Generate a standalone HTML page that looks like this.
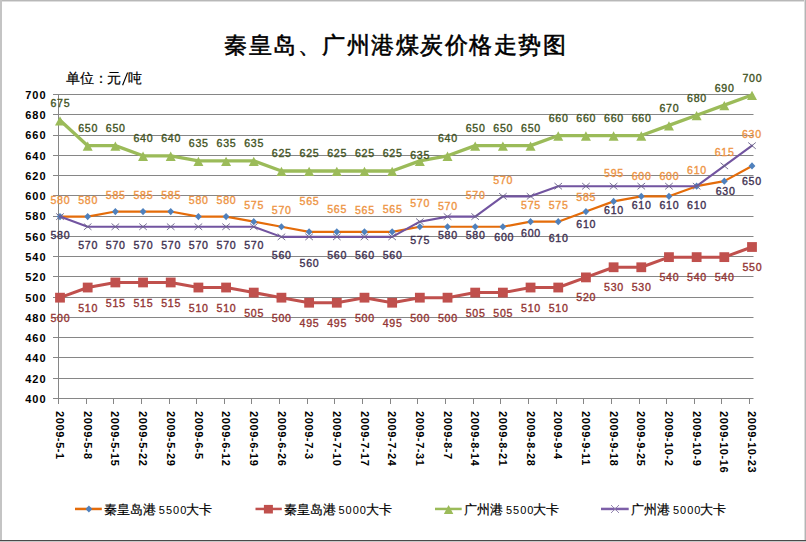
<!DOCTYPE html>
<html><head><meta charset="utf-8"><style>
html,body{margin:0;padding:0;background:#fff;}
#c{position:relative;width:806px;height:542px;overflow:hidden;background:#fff;font-family:"Liberation Sans",sans-serif;}
.dl{font-family:"Liberation Sans",sans-serif;font-size:10.6px;text-anchor:middle;letter-spacing:0.75px;stroke-width:0.35px;}
.ax{font-family:"Liberation Sans",sans-serif;font-size:11px;font-weight:bold;fill:#000;}
.bt{position:absolute;background:#c4c4c4;}
#title{position:absolute;left:224px;top:30px;font-size:23px;font-weight:normal;letter-spacing:1.5px;-webkit-text-stroke:0.55px #000;white-space:nowrap;line-height:30px;color:#000;}
.un{position:absolute;top:69.8px;font-size:13.5px;-webkit-text-stroke:0.2px #000;white-space:nowrap;line-height:17px;color:#000;}
.lg{position:absolute;top:500.6px;font-size:13px;-webkit-text-stroke:0.2px #000;white-space:nowrap;line-height:17px;color:#000;}
.lgd{position:absolute;top:501.8px;font-size:11px;white-space:nowrap;line-height:17px;color:#000;letter-spacing:1px}
</style></head><body><div id="c">
<svg width="806" height="542" viewBox="0 0 806 542" style="position:absolute;left:0;top:0">
<rect x="53" y="94" width="700.5" height="1" fill="#868686"/>
<rect x="53" y="114" width="700.5" height="1" fill="#868686"/>
<rect x="53" y="135" width="700.5" height="1" fill="#868686"/>
<rect x="53" y="155" width="700.5" height="1" fill="#868686"/>
<rect x="53" y="175" width="700.5" height="1" fill="#868686"/>
<rect x="53" y="195" width="700.5" height="1" fill="#868686"/>
<rect x="53" y="216" width="700.5" height="1" fill="#868686"/>
<rect x="53" y="236" width="700.5" height="1" fill="#868686"/>
<rect x="53" y="256" width="700.5" height="1" fill="#868686"/>
<rect x="53" y="276" width="700.5" height="1" fill="#868686"/>
<rect x="53" y="297" width="700.5" height="1" fill="#868686"/>
<rect x="53" y="317" width="700.5" height="1" fill="#868686"/>
<rect x="53" y="337" width="700.5" height="1" fill="#868686"/>
<rect x="53" y="357" width="700.5" height="1" fill="#868686"/>
<rect x="53" y="378" width="700.5" height="1" fill="#868686"/>
<rect x="53" y="398" width="700.5" height="1" fill="#868686"/>
<rect x="58" y="94" width="1" height="305" fill="#868686"/>
<rect x="58" y="398" width="1" height="6" fill="#868686"/>
<rect x="86" y="398" width="1" height="6" fill="#868686"/>
<rect x="113" y="398" width="1" height="6" fill="#868686"/>
<rect x="141" y="398" width="1" height="6" fill="#868686"/>
<rect x="169" y="398" width="1" height="6" fill="#868686"/>
<rect x="196" y="398" width="1" height="6" fill="#868686"/>
<rect x="224" y="398" width="1" height="6" fill="#868686"/>
<rect x="251" y="398" width="1" height="6" fill="#868686"/>
<rect x="279" y="398" width="1" height="6" fill="#868686"/>
<rect x="307" y="398" width="1" height="6" fill="#868686"/>
<rect x="334" y="398" width="1" height="6" fill="#868686"/>
<rect x="362" y="398" width="1" height="6" fill="#868686"/>
<rect x="390" y="398" width="1" height="6" fill="#868686"/>
<rect x="417" y="398" width="1" height="6" fill="#868686"/>
<rect x="445" y="398" width="1" height="6" fill="#868686"/>
<rect x="473" y="398" width="1" height="6" fill="#868686"/>
<rect x="500" y="398" width="1" height="6" fill="#868686"/>
<rect x="528" y="398" width="1" height="6" fill="#868686"/>
<rect x="556" y="398" width="1" height="6" fill="#868686"/>
<rect x="583" y="398" width="1" height="6" fill="#868686"/>
<rect x="611" y="398" width="1" height="6" fill="#868686"/>
<rect x="639" y="398" width="1" height="6" fill="#868686"/>
<rect x="666" y="398" width="1" height="6" fill="#868686"/>
<rect x="694" y="398" width="1" height="6" fill="#868686"/>
<rect x="721" y="398" width="1" height="6" fill="#868686"/>
<rect x="749" y="398" width="1" height="6" fill="#868686"/>
<polyline points="60.00,216.60 87.68,216.60 115.36,211.53 143.04,211.53 170.72,211.53 198.40,216.60 226.08,216.60 253.76,221.67 281.44,226.73 309.12,231.80 336.80,231.80 364.48,231.80 392.16,231.80 419.84,226.73 447.52,226.73 475.20,226.73 502.88,226.73 530.56,221.67 558.24,221.67 585.92,211.53 613.60,201.40 641.28,196.33 668.96,196.33 696.64,186.20 724.32,181.13 752.00,165.93" fill="none" stroke="#E46C0A" stroke-width="2.2" stroke-linejoin="round" stroke-linecap="round"/>
<path d="M60.00,213.00 L63.40,216.60 L60.00,220.20 L56.60,216.60Z" fill="#4F81BD"/>
<path d="M87.68,213.00 L91.08,216.60 L87.68,220.20 L84.28,216.60Z" fill="#4F81BD"/>
<path d="M115.36,207.93 L118.76,211.53 L115.36,215.13 L111.96,211.53Z" fill="#4F81BD"/>
<path d="M143.04,207.93 L146.44,211.53 L143.04,215.13 L139.64,211.53Z" fill="#4F81BD"/>
<path d="M170.72,207.93 L174.12,211.53 L170.72,215.13 L167.32,211.53Z" fill="#4F81BD"/>
<path d="M198.40,213.00 L201.80,216.60 L198.40,220.20 L195.00,216.60Z" fill="#4F81BD"/>
<path d="M226.08,213.00 L229.48,216.60 L226.08,220.20 L222.68,216.60Z" fill="#4F81BD"/>
<path d="M253.76,218.07 L257.16,221.67 L253.76,225.27 L250.36,221.67Z" fill="#4F81BD"/>
<path d="M281.44,223.13 L284.84,226.73 L281.44,230.33 L278.04,226.73Z" fill="#4F81BD"/>
<path d="M309.12,228.20 L312.52,231.80 L309.12,235.40 L305.72,231.80Z" fill="#4F81BD"/>
<path d="M336.80,228.20 L340.20,231.80 L336.80,235.40 L333.40,231.80Z" fill="#4F81BD"/>
<path d="M364.48,228.20 L367.88,231.80 L364.48,235.40 L361.08,231.80Z" fill="#4F81BD"/>
<path d="M392.16,228.20 L395.56,231.80 L392.16,235.40 L388.76,231.80Z" fill="#4F81BD"/>
<path d="M419.84,223.13 L423.24,226.73 L419.84,230.33 L416.44,226.73Z" fill="#4F81BD"/>
<path d="M447.52,223.13 L450.92,226.73 L447.52,230.33 L444.12,226.73Z" fill="#4F81BD"/>
<path d="M475.20,223.13 L478.60,226.73 L475.20,230.33 L471.80,226.73Z" fill="#4F81BD"/>
<path d="M502.88,223.13 L506.28,226.73 L502.88,230.33 L499.48,226.73Z" fill="#4F81BD"/>
<path d="M530.56,218.07 L533.96,221.67 L530.56,225.27 L527.16,221.67Z" fill="#4F81BD"/>
<path d="M558.24,218.07 L561.64,221.67 L558.24,225.27 L554.84,221.67Z" fill="#4F81BD"/>
<path d="M585.92,207.93 L589.32,211.53 L585.92,215.13 L582.52,211.53Z" fill="#4F81BD"/>
<path d="M613.60,197.80 L617.00,201.40 L613.60,205.00 L610.20,201.40Z" fill="#4F81BD"/>
<path d="M641.28,192.73 L644.68,196.33 L641.28,199.93 L637.88,196.33Z" fill="#4F81BD"/>
<path d="M668.96,192.73 L672.36,196.33 L668.96,199.93 L665.56,196.33Z" fill="#4F81BD"/>
<path d="M696.64,182.60 L700.04,186.20 L696.64,189.80 L693.24,186.20Z" fill="#4F81BD"/>
<path d="M724.32,177.53 L727.72,181.13 L724.32,184.73 L720.92,181.13Z" fill="#4F81BD"/>
<path d="M752.00,162.33 L755.40,165.93 L752.00,169.53 L748.60,165.93Z" fill="#4F81BD"/>
<polyline points="60.00,297.67 87.68,287.53 115.36,282.47 143.04,282.47 170.72,282.47 198.40,287.53 226.08,287.53 253.76,292.60 281.44,297.67 309.12,302.73 336.80,302.73 364.48,297.67 392.16,302.73 419.84,297.67 447.52,297.67 475.20,292.60 502.88,292.60 530.56,287.53 558.24,287.53 585.92,277.40 613.60,267.27 641.28,267.27 668.96,257.13 696.64,257.13 724.32,257.13 752.00,247.00" fill="none" stroke="#C0504D" stroke-width="3" stroke-linejoin="round" stroke-linecap="round"/>
<rect x="55.10" y="292.77" width="9.8" height="9.8" fill="#C0504D"/>
<rect x="82.78" y="282.63" width="9.8" height="9.8" fill="#C0504D"/>
<rect x="110.46" y="277.57" width="9.8" height="9.8" fill="#C0504D"/>
<rect x="138.14" y="277.57" width="9.8" height="9.8" fill="#C0504D"/>
<rect x="165.82" y="277.57" width="9.8" height="9.8" fill="#C0504D"/>
<rect x="193.50" y="282.63" width="9.8" height="9.8" fill="#C0504D"/>
<rect x="221.18" y="282.63" width="9.8" height="9.8" fill="#C0504D"/>
<rect x="248.86" y="287.70" width="9.8" height="9.8" fill="#C0504D"/>
<rect x="276.54" y="292.77" width="9.8" height="9.8" fill="#C0504D"/>
<rect x="304.22" y="297.83" width="9.8" height="9.8" fill="#C0504D"/>
<rect x="331.90" y="297.83" width="9.8" height="9.8" fill="#C0504D"/>
<rect x="359.58" y="292.77" width="9.8" height="9.8" fill="#C0504D"/>
<rect x="387.26" y="297.83" width="9.8" height="9.8" fill="#C0504D"/>
<rect x="414.94" y="292.77" width="9.8" height="9.8" fill="#C0504D"/>
<rect x="442.62" y="292.77" width="9.8" height="9.8" fill="#C0504D"/>
<rect x="470.30" y="287.70" width="9.8" height="9.8" fill="#C0504D"/>
<rect x="497.98" y="287.70" width="9.8" height="9.8" fill="#C0504D"/>
<rect x="525.66" y="282.63" width="9.8" height="9.8" fill="#C0504D"/>
<rect x="553.34" y="282.63" width="9.8" height="9.8" fill="#C0504D"/>
<rect x="581.02" y="272.50" width="9.8" height="9.8" fill="#C0504D"/>
<rect x="608.70" y="262.37" width="9.8" height="9.8" fill="#C0504D"/>
<rect x="636.38" y="262.37" width="9.8" height="9.8" fill="#C0504D"/>
<rect x="664.06" y="252.23" width="9.8" height="9.8" fill="#C0504D"/>
<rect x="691.74" y="252.23" width="9.8" height="9.8" fill="#C0504D"/>
<rect x="719.42" y="252.23" width="9.8" height="9.8" fill="#C0504D"/>
<rect x="747.10" y="242.10" width="9.8" height="9.8" fill="#C0504D"/>
<polyline points="60.00,120.33 87.68,145.67 115.36,145.67 143.04,155.80 170.72,155.80 198.40,160.87 226.08,160.87 253.76,160.87 281.44,171.00 309.12,171.00 336.80,171.00 364.48,171.00 392.16,171.00 419.84,160.87 447.52,155.80 475.20,145.67 502.88,145.67 530.56,145.67 558.24,135.53 585.92,135.53 613.60,135.53 641.28,135.53 668.96,125.40 696.64,115.27 724.32,105.13 752.00,95.00" fill="none" stroke="#9BBB59" stroke-width="3.3" stroke-linejoin="round" stroke-linecap="round"/>
<path d="M60.00,116.13 L65.00,125.43 L55.00,125.43Z" fill="#9BBB59"/>
<path d="M87.68,141.47 L92.68,150.77 L82.68,150.77Z" fill="#9BBB59"/>
<path d="M115.36,141.47 L120.36,150.77 L110.36,150.77Z" fill="#9BBB59"/>
<path d="M143.04,151.60 L148.04,160.90 L138.04,160.90Z" fill="#9BBB59"/>
<path d="M170.72,151.60 L175.72,160.90 L165.72,160.90Z" fill="#9BBB59"/>
<path d="M198.40,156.67 L203.40,165.97 L193.40,165.97Z" fill="#9BBB59"/>
<path d="M226.08,156.67 L231.08,165.97 L221.08,165.97Z" fill="#9BBB59"/>
<path d="M253.76,156.67 L258.76,165.97 L248.76,165.97Z" fill="#9BBB59"/>
<path d="M281.44,166.80 L286.44,176.10 L276.44,176.10Z" fill="#9BBB59"/>
<path d="M309.12,166.80 L314.12,176.10 L304.12,176.10Z" fill="#9BBB59"/>
<path d="M336.80,166.80 L341.80,176.10 L331.80,176.10Z" fill="#9BBB59"/>
<path d="M364.48,166.80 L369.48,176.10 L359.48,176.10Z" fill="#9BBB59"/>
<path d="M392.16,166.80 L397.16,176.10 L387.16,176.10Z" fill="#9BBB59"/>
<path d="M419.84,156.67 L424.84,165.97 L414.84,165.97Z" fill="#9BBB59"/>
<path d="M447.52,151.60 L452.52,160.90 L442.52,160.90Z" fill="#9BBB59"/>
<path d="M475.20,141.47 L480.20,150.77 L470.20,150.77Z" fill="#9BBB59"/>
<path d="M502.88,141.47 L507.88,150.77 L497.88,150.77Z" fill="#9BBB59"/>
<path d="M530.56,141.47 L535.56,150.77 L525.56,150.77Z" fill="#9BBB59"/>
<path d="M558.24,131.33 L563.24,140.63 L553.24,140.63Z" fill="#9BBB59"/>
<path d="M585.92,131.33 L590.92,140.63 L580.92,140.63Z" fill="#9BBB59"/>
<path d="M613.60,131.33 L618.60,140.63 L608.60,140.63Z" fill="#9BBB59"/>
<path d="M641.28,131.33 L646.28,140.63 L636.28,140.63Z" fill="#9BBB59"/>
<path d="M668.96,121.20 L673.96,130.50 L663.96,130.50Z" fill="#9BBB59"/>
<path d="M696.64,111.07 L701.64,120.37 L691.64,120.37Z" fill="#9BBB59"/>
<path d="M724.32,100.93 L729.32,110.23 L719.32,110.23Z" fill="#9BBB59"/>
<path d="M752.00,90.80 L757.00,100.10 L747.00,100.10Z" fill="#9BBB59"/>
<polyline points="60.00,216.60 87.68,226.73 115.36,226.73 143.04,226.73 170.72,226.73 198.40,226.73 226.08,226.73 253.76,226.73 281.44,236.87 309.12,236.87 336.80,236.87 364.48,236.87 392.16,236.87 419.84,221.67 447.52,216.60 475.20,216.60 502.88,196.33 530.56,196.33 558.24,186.20 585.92,186.20 613.60,186.20 641.28,186.20 668.96,186.20 696.64,186.20 724.32,165.93 752.00,145.67" fill="none" stroke="#7254A0" stroke-width="2.1" stroke-linejoin="round" stroke-linecap="round"/>
<path d="M56.20,213.40 L63.80,219.80 M63.80,213.40 L56.20,219.80" stroke="#6A6288" stroke-width="0.9" fill="none"/>
<path d="M83.88,223.53 L91.48,229.93 M91.48,223.53 L83.88,229.93" stroke="#6A6288" stroke-width="0.9" fill="none"/>
<path d="M111.56,223.53 L119.16,229.93 M119.16,223.53 L111.56,229.93" stroke="#6A6288" stroke-width="0.9" fill="none"/>
<path d="M139.24,223.53 L146.84,229.93 M146.84,223.53 L139.24,229.93" stroke="#6A6288" stroke-width="0.9" fill="none"/>
<path d="M166.92,223.53 L174.52,229.93 M174.52,223.53 L166.92,229.93" stroke="#6A6288" stroke-width="0.9" fill="none"/>
<path d="M194.60,223.53 L202.20,229.93 M202.20,223.53 L194.60,229.93" stroke="#6A6288" stroke-width="0.9" fill="none"/>
<path d="M222.28,223.53 L229.88,229.93 M229.88,223.53 L222.28,229.93" stroke="#6A6288" stroke-width="0.9" fill="none"/>
<path d="M249.96,223.53 L257.56,229.93 M257.56,223.53 L249.96,229.93" stroke="#6A6288" stroke-width="0.9" fill="none"/>
<path d="M277.64,233.67 L285.24,240.07 M285.24,233.67 L277.64,240.07" stroke="#6A6288" stroke-width="0.9" fill="none"/>
<path d="M305.32,233.67 L312.92,240.07 M312.92,233.67 L305.32,240.07" stroke="#6A6288" stroke-width="0.9" fill="none"/>
<path d="M333.00,233.67 L340.60,240.07 M340.60,233.67 L333.00,240.07" stroke="#6A6288" stroke-width="0.9" fill="none"/>
<path d="M360.68,233.67 L368.28,240.07 M368.28,233.67 L360.68,240.07" stroke="#6A6288" stroke-width="0.9" fill="none"/>
<path d="M388.36,233.67 L395.96,240.07 M395.96,233.67 L388.36,240.07" stroke="#6A6288" stroke-width="0.9" fill="none"/>
<path d="M416.04,218.47 L423.64,224.87 M423.64,218.47 L416.04,224.87" stroke="#6A6288" stroke-width="0.9" fill="none"/>
<path d="M443.72,213.40 L451.32,219.80 M451.32,213.40 L443.72,219.80" stroke="#6A6288" stroke-width="0.9" fill="none"/>
<path d="M471.40,213.40 L479.00,219.80 M479.00,213.40 L471.40,219.80" stroke="#6A6288" stroke-width="0.9" fill="none"/>
<path d="M499.08,193.13 L506.68,199.53 M506.68,193.13 L499.08,199.53" stroke="#6A6288" stroke-width="0.9" fill="none"/>
<path d="M526.76,193.13 L534.36,199.53 M534.36,193.13 L526.76,199.53" stroke="#6A6288" stroke-width="0.9" fill="none"/>
<path d="M554.44,183.00 L562.04,189.40 M562.04,183.00 L554.44,189.40" stroke="#6A6288" stroke-width="0.9" fill="none"/>
<path d="M582.12,183.00 L589.72,189.40 M589.72,183.00 L582.12,189.40" stroke="#6A6288" stroke-width="0.9" fill="none"/>
<path d="M609.80,183.00 L617.40,189.40 M617.40,183.00 L609.80,189.40" stroke="#6A6288" stroke-width="0.9" fill="none"/>
<path d="M637.48,183.00 L645.08,189.40 M645.08,183.00 L637.48,189.40" stroke="#6A6288" stroke-width="0.9" fill="none"/>
<path d="M665.16,183.00 L672.76,189.40 M672.76,183.00 L665.16,189.40" stroke="#6A6288" stroke-width="0.9" fill="none"/>
<path d="M692.84,183.00 L700.44,189.40 M700.44,183.00 L692.84,189.40" stroke="#6A6288" stroke-width="0.9" fill="none"/>
<path d="M720.52,162.73 L728.12,169.13 M728.12,162.73 L720.52,169.13" stroke="#6A6288" stroke-width="0.9" fill="none"/>
<path d="M748.20,142.47 L755.80,148.87 M755.80,142.47 L748.20,148.87" stroke="#6A6288" stroke-width="0.9" fill="none"/>
<text x="60.4" y="106.5" fill="#435424" stroke="#435424" class="dl">675</text>
<text x="88.1" y="131.9" fill="#435424" stroke="#435424" class="dl">650</text>
<text x="115.8" y="131.9" fill="#435424" stroke="#435424" class="dl">650</text>
<text x="143.4" y="142.0" fill="#435424" stroke="#435424" class="dl">640</text>
<text x="171.1" y="142.0" fill="#435424" stroke="#435424" class="dl">640</text>
<text x="198.8" y="147.1" fill="#435424" stroke="#435424" class="dl">635</text>
<text x="226.5" y="147.1" fill="#435424" stroke="#435424" class="dl">635</text>
<text x="254.2" y="147.1" fill="#435424" stroke="#435424" class="dl">635</text>
<text x="281.8" y="157.2" fill="#435424" stroke="#435424" class="dl">625</text>
<text x="309.5" y="157.2" fill="#435424" stroke="#435424" class="dl">625</text>
<text x="337.2" y="157.2" fill="#435424" stroke="#435424" class="dl">625</text>
<text x="364.9" y="157.2" fill="#435424" stroke="#435424" class="dl">625</text>
<text x="392.6" y="157.2" fill="#435424" stroke="#435424" class="dl">625</text>
<text x="420.2" y="159.1" fill="#435424" stroke="#435424" class="dl">635</text>
<text x="447.9" y="142.0" fill="#435424" stroke="#435424" class="dl">640</text>
<text x="475.6" y="131.9" fill="#435424" stroke="#435424" class="dl">650</text>
<text x="503.3" y="131.9" fill="#435424" stroke="#435424" class="dl">650</text>
<text x="531.0" y="131.9" fill="#435424" stroke="#435424" class="dl">650</text>
<text x="558.6" y="121.7" fill="#435424" stroke="#435424" class="dl">660</text>
<text x="586.3" y="121.7" fill="#435424" stroke="#435424" class="dl">660</text>
<text x="614.0" y="121.7" fill="#435424" stroke="#435424" class="dl">660</text>
<text x="641.7" y="121.7" fill="#435424" stroke="#435424" class="dl">660</text>
<text x="669.4" y="111.6" fill="#435424" stroke="#435424" class="dl">670</text>
<text x="697.0" y="101.5" fill="#435424" stroke="#435424" class="dl">680</text>
<text x="724.7" y="92.0" fill="#435424" stroke="#435424" class="dl">690</text>
<text x="752.4" y="82.4" fill="#435424" stroke="#435424" class="dl">700</text>
<text x="60.4" y="204.3" fill="#EE9545" stroke="#EE9545" class="dl">580</text>
<text x="88.1" y="204.3" fill="#EE9545" stroke="#EE9545" class="dl">580</text>
<text x="115.8" y="199.2" fill="#EE9545" stroke="#EE9545" class="dl">585</text>
<text x="143.4" y="199.2" fill="#EE9545" stroke="#EE9545" class="dl">585</text>
<text x="171.1" y="199.2" fill="#EE9545" stroke="#EE9545" class="dl">585</text>
<text x="198.8" y="204.3" fill="#EE9545" stroke="#EE9545" class="dl">580</text>
<text x="226.5" y="204.3" fill="#EE9545" stroke="#EE9545" class="dl">580</text>
<text x="254.2" y="209.4" fill="#EE9545" stroke="#EE9545" class="dl">575</text>
<text x="281.8" y="214.4" fill="#EE9545" stroke="#EE9545" class="dl">570</text>
<text x="309.5" y="205.0" fill="#EE9545" stroke="#EE9545" class="dl">565</text>
<text x="337.2" y="213.0" fill="#EE9545" stroke="#EE9545" class="dl">565</text>
<text x="364.9" y="214.0" fill="#EE9545" stroke="#EE9545" class="dl">565</text>
<text x="392.6" y="212.5" fill="#EE9545" stroke="#EE9545" class="dl">565</text>
<text x="420.2" y="206.5" fill="#EE9545" stroke="#EE9545" class="dl">570</text>
<text x="447.9" y="209.9" fill="#EE9545" stroke="#EE9545" class="dl">570</text>
<text x="475.6" y="198.5" fill="#EE9545" stroke="#EE9545" class="dl">570</text>
<text x="503.3" y="183.7" fill="#EE9545" stroke="#EE9545" class="dl">570</text>
<text x="531.0" y="209.4" fill="#EE9545" stroke="#EE9545" class="dl">575</text>
<text x="558.6" y="209.4" fill="#EE9545" stroke="#EE9545" class="dl">575</text>
<text x="586.3" y="200.7" fill="#EE9545" stroke="#EE9545" class="dl">585</text>
<text x="614.0" y="177.0" fill="#EE9545" stroke="#EE9545" class="dl">595</text>
<text x="641.7" y="180.3" fill="#EE9545" stroke="#EE9545" class="dl">600</text>
<text x="669.4" y="180.3" fill="#EE9545" stroke="#EE9545" class="dl">600</text>
<text x="697.0" y="173.9" fill="#EE9545" stroke="#EE9545" class="dl">610</text>
<text x="724.7" y="155.6" fill="#EE9545" stroke="#EE9545" class="dl">615</text>
<text x="751.9" y="138.4" fill="#EE9545" stroke="#EE9545" class="dl">630</text>
<text x="60.4" y="321.7" fill="#943634" stroke="#943634" class="dl">500</text>
<text x="88.1" y="311.5" fill="#943634" stroke="#943634" class="dl">510</text>
<text x="115.8" y="306.5" fill="#943634" stroke="#943634" class="dl">515</text>
<text x="143.4" y="306.5" fill="#943634" stroke="#943634" class="dl">515</text>
<text x="171.1" y="306.5" fill="#943634" stroke="#943634" class="dl">515</text>
<text x="198.8" y="311.5" fill="#943634" stroke="#943634" class="dl">510</text>
<text x="226.5" y="311.5" fill="#943634" stroke="#943634" class="dl">510</text>
<text x="254.2" y="316.6" fill="#943634" stroke="#943634" class="dl">505</text>
<text x="281.8" y="321.7" fill="#943634" stroke="#943634" class="dl">500</text>
<text x="309.5" y="326.7" fill="#943634" stroke="#943634" class="dl">495</text>
<text x="337.2" y="326.7" fill="#943634" stroke="#943634" class="dl">495</text>
<text x="364.9" y="321.7" fill="#943634" stroke="#943634" class="dl">500</text>
<text x="392.6" y="326.7" fill="#943634" stroke="#943634" class="dl">495</text>
<text x="420.2" y="321.7" fill="#943634" stroke="#943634" class="dl">500</text>
<text x="447.9" y="321.7" fill="#943634" stroke="#943634" class="dl">500</text>
<text x="475.6" y="316.6" fill="#943634" stroke="#943634" class="dl">505</text>
<text x="503.3" y="316.6" fill="#943634" stroke="#943634" class="dl">505</text>
<text x="531.0" y="311.5" fill="#943634" stroke="#943634" class="dl">510</text>
<text x="558.6" y="311.5" fill="#943634" stroke="#943634" class="dl">510</text>
<text x="586.3" y="301.4" fill="#943634" stroke="#943634" class="dl">520</text>
<text x="614.0" y="291.3" fill="#943634" stroke="#943634" class="dl">530</text>
<text x="641.7" y="291.3" fill="#943634" stroke="#943634" class="dl">530</text>
<text x="669.4" y="281.1" fill="#943634" stroke="#943634" class="dl">540</text>
<text x="697.0" y="281.1" fill="#943634" stroke="#943634" class="dl">540</text>
<text x="724.7" y="281.1" fill="#943634" stroke="#943634" class="dl">540</text>
<text x="752.4" y="271.0" fill="#943634" stroke="#943634" class="dl">550</text>
<text x="60.4" y="238.9" fill="#3F3151" stroke="#3F3151" class="dl">580</text>
<text x="88.1" y="249.0" fill="#3F3151" stroke="#3F3151" class="dl">570</text>
<text x="115.8" y="249.0" fill="#3F3151" stroke="#3F3151" class="dl">570</text>
<text x="143.4" y="249.0" fill="#3F3151" stroke="#3F3151" class="dl">570</text>
<text x="171.1" y="249.0" fill="#3F3151" stroke="#3F3151" class="dl">570</text>
<text x="198.8" y="249.0" fill="#3F3151" stroke="#3F3151" class="dl">570</text>
<text x="226.5" y="249.0" fill="#3F3151" stroke="#3F3151" class="dl">570</text>
<text x="254.2" y="249.0" fill="#3F3151" stroke="#3F3151" class="dl">570</text>
<text x="281.8" y="259.2" fill="#3F3151" stroke="#3F3151" class="dl">560</text>
<text x="309.5" y="266.5" fill="#3F3151" stroke="#3F3151" class="dl">560</text>
<text x="337.2" y="259.2" fill="#3F3151" stroke="#3F3151" class="dl">560</text>
<text x="364.9" y="259.2" fill="#3F3151" stroke="#3F3151" class="dl">560</text>
<text x="392.6" y="259.2" fill="#3F3151" stroke="#3F3151" class="dl">560</text>
<text x="420.2" y="244.0" fill="#3F3151" stroke="#3F3151" class="dl">575</text>
<text x="447.9" y="238.9" fill="#3F3151" stroke="#3F3151" class="dl">580</text>
<text x="475.6" y="238.9" fill="#3F3151" stroke="#3F3151" class="dl">580</text>
<text x="504.3" y="241.0" fill="#3F3151" stroke="#3F3151" class="dl">600</text>
<text x="531.0" y="236.5" fill="#3F3151" stroke="#3F3151" class="dl">600</text>
<text x="558.6" y="242.4" fill="#3F3151" stroke="#3F3151" class="dl">610</text>
<text x="586.3" y="227.7" fill="#3F3151" stroke="#3F3151" class="dl">610</text>
<text x="614.0" y="214.4" fill="#3F3151" stroke="#3F3151" class="dl">610</text>
<text x="641.7" y="208.5" fill="#3F3151" stroke="#3F3151" class="dl">610</text>
<text x="669.4" y="208.5" fill="#3F3151" stroke="#3F3151" class="dl">610</text>
<text x="697.0" y="208.5" fill="#3F3151" stroke="#3F3151" class="dl">610</text>
<text x="725.7" y="195.1" fill="#3F3151" stroke="#3F3151" class="dl">630</text>
<text x="751.9" y="184.8" fill="#3F3151" stroke="#3F3151" class="dl">650</text>
<text x="46.5" y="402.8" class="ax" style="letter-spacing:1px" text-anchor="end">400</text>
<text x="46.5" y="382.5" class="ax" style="letter-spacing:1px" text-anchor="end">420</text>
<text x="46.5" y="362.3" class="ax" style="letter-spacing:1px" text-anchor="end">440</text>
<text x="46.5" y="342.0" class="ax" style="letter-spacing:1px" text-anchor="end">460</text>
<text x="46.5" y="321.7" class="ax" style="letter-spacing:1px" text-anchor="end">480</text>
<text x="46.5" y="301.5" class="ax" style="letter-spacing:1px" text-anchor="end">500</text>
<text x="46.5" y="281.2" class="ax" style="letter-spacing:1px" text-anchor="end">520</text>
<text x="46.5" y="260.9" class="ax" style="letter-spacing:1px" text-anchor="end">540</text>
<text x="46.5" y="240.7" class="ax" style="letter-spacing:1px" text-anchor="end">560</text>
<text x="46.5" y="220.4" class="ax" style="letter-spacing:1px" text-anchor="end">580</text>
<text x="46.5" y="200.1" class="ax" style="letter-spacing:1px" text-anchor="end">600</text>
<text x="46.5" y="179.9" class="ax" style="letter-spacing:1px" text-anchor="end">620</text>
<text x="46.5" y="159.6" class="ax" style="letter-spacing:1px" text-anchor="end">640</text>
<text x="46.5" y="139.3" class="ax" style="letter-spacing:1px" text-anchor="end">660</text>
<text x="46.5" y="119.1" class="ax" style="letter-spacing:1px" text-anchor="end">680</text>
<text x="46.5" y="98.8" class="ax" style="letter-spacing:1px" text-anchor="end">700</text>
<text transform="translate(56.0,411) rotate(90)" class="ax" style="letter-spacing:0.6px">2009-5-1</text>
<text transform="translate(83.7,411) rotate(90)" class="ax" style="letter-spacing:0.6px">2009-5-8</text>
<text transform="translate(111.4,411) rotate(90)" class="ax" style="letter-spacing:0.6px">2009-5-15</text>
<text transform="translate(139.1,411) rotate(90)" class="ax" style="letter-spacing:0.6px">2009-5-22</text>
<text transform="translate(166.8,411) rotate(90)" class="ax" style="letter-spacing:0.6px">2009-5-29</text>
<text transform="translate(194.5,411) rotate(90)" class="ax" style="letter-spacing:0.6px">2009-6-5</text>
<text transform="translate(222.1,411) rotate(90)" class="ax" style="letter-spacing:0.6px">2009-6-12</text>
<text transform="translate(249.8,411) rotate(90)" class="ax" style="letter-spacing:0.6px">2009-6-19</text>
<text transform="translate(277.5,411) rotate(90)" class="ax" style="letter-spacing:0.6px">2009-6-26</text>
<text transform="translate(305.2,411) rotate(90)" class="ax" style="letter-spacing:0.6px">2009-7-3</text>
<text transform="translate(332.9,411) rotate(90)" class="ax" style="letter-spacing:0.6px">2009-7-10</text>
<text transform="translate(360.5,411) rotate(90)" class="ax" style="letter-spacing:0.6px">2009-7-17</text>
<text transform="translate(388.2,411) rotate(90)" class="ax" style="letter-spacing:0.6px">2009-7-24</text>
<text transform="translate(415.9,411) rotate(90)" class="ax" style="letter-spacing:0.6px">2009-7-31</text>
<text transform="translate(443.6,411) rotate(90)" class="ax" style="letter-spacing:0.6px">2009-8-7</text>
<text transform="translate(471.2,411) rotate(90)" class="ax" style="letter-spacing:0.6px">2009-8-14</text>
<text transform="translate(498.9,411) rotate(90)" class="ax" style="letter-spacing:0.6px">2009-8-21</text>
<text transform="translate(526.6,411) rotate(90)" class="ax" style="letter-spacing:0.6px">2009-8-28</text>
<text transform="translate(554.3,411) rotate(90)" class="ax" style="letter-spacing:0.6px">2009-9-4</text>
<text transform="translate(582.0,411) rotate(90)" class="ax" style="letter-spacing:0.6px">2009-9-11</text>
<text transform="translate(609.6,411) rotate(90)" class="ax" style="letter-spacing:0.6px">2009-9-18</text>
<text transform="translate(637.3,411) rotate(90)" class="ax" style="letter-spacing:0.6px">2009-9-25</text>
<text transform="translate(665.0,411) rotate(90)" class="ax" style="letter-spacing:0.6px">2009-10-2</text>
<text transform="translate(692.7,411) rotate(90)" class="ax" style="letter-spacing:0.6px">2009-10-9</text>
<text transform="translate(720.4,411) rotate(90)" class="ax" style="letter-spacing:0.6px">2009-10-16</text>
<text transform="translate(748.0,411) rotate(90)" class="ax" style="letter-spacing:0.6px">2009-10-23</text>
<rect x="75" y="507.7" width="26.8" height="2.5" fill="#E46C0A"/>
<path d="M88.9,505.5 L92.3,509 L88.9,512.5 L85.5,509Z" fill="#4F81BD"/>
<rect x="255.5" y="507.7" width="26.3" height="2.5" fill="#C0504D"/>
<rect x="263.9" y="504.9" width="9" height="8.6" fill="#C0504D"/>
<rect x="435" y="507.7" width="26.7" height="2.5" fill="#9BBB59"/>
<path d="M448.6,504.9 L453.3,513.9 L443.9,513.9Z" fill="#9BBB59"/>
<rect x="601" y="507.7" width="27.7" height="2.5" fill="#7D5FA8"/>
<path d="M611,505 L619,513 M619,505 L611,513" stroke="#8A7AA8" stroke-width="0.9"/>
</svg>
<div id="title">秦皇岛、广州港煤炭价格走势图</div>
<div class="un" style="left:65.7px;letter-spacing:0.4px">单位：</div><div class="un" style="left:107.2px">元</div>
<svg width="20" height="20" style="position:absolute;left:118px;top:68.8px"><path d="M4.6,16.2 L9.6,3.6" stroke="#000" stroke-width="1.15"/></svg>
<div class="un" style="left:128.3px">吨</div>
<div class="lg" style="left:104.4px">秦皇岛港</div><div class="lgd" style="left:158.8px">5500</div><div class="lg" style="left:186.1px">大卡</div>
<div class="lg" style="left:284.0px">秦皇岛港</div><div class="lgd" style="left:338.4px">5000</div><div class="lg" style="left:365.7px">大卡</div>
<div class="lg" style="left:464.0px">广州港</div><div class="lgd" style="left:505.9px">5500</div><div class="lg" style="left:533.2px">大卡</div>
<div class="lg" style="left:631.0px">广州港</div><div class="lgd" style="left:672.9px">5000</div><div class="lg" style="left:700.2px">大卡</div>

<div class="bt" style="left:0;top:0;width:806px;height:1px;background:#b8b8b8"></div>
<div class="bt" style="left:0;top:1px;width:806px;height:1px;background:#dedede"></div>
<div class="bt" style="left:0;top:0;width:2px;height:541px"></div>
<div class="bt" style="left:804px;top:0;width:1px;height:541px;background:#dcdcdc"></div>
<div class="bt" style="left:805px;top:0;width:1px;height:541px;background:#b4b4b4"></div>
<div class="bt" style="left:0;top:540px;width:806px;height:1px;background:#4a4a4a"></div>
<div class="bt" style="left:0;top:541px;width:806px;height:1px;background:#c8c8c8"></div>
</div></body></html>
